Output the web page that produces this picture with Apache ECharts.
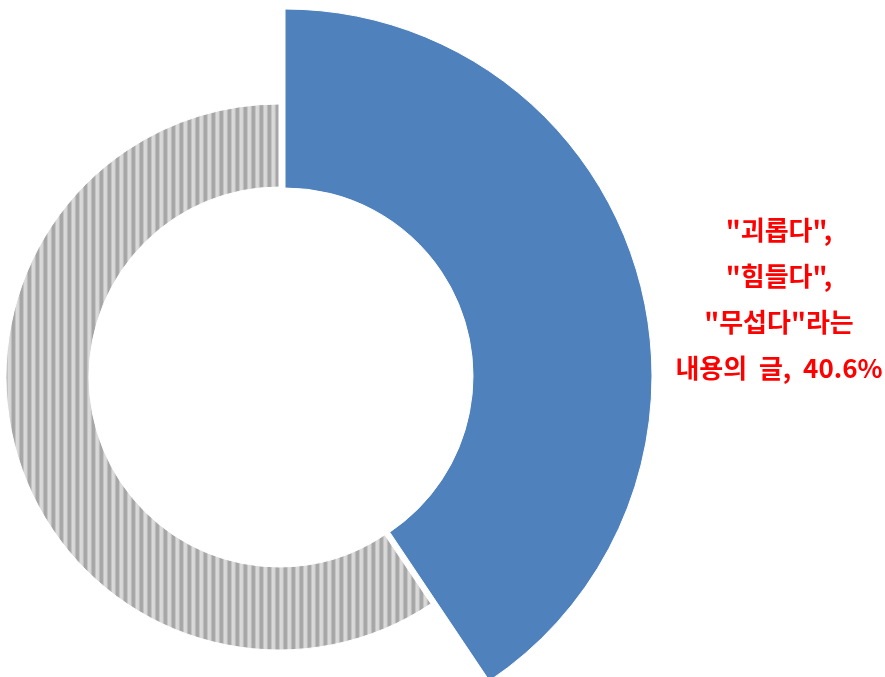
<!DOCTYPE html>
<html><head><meta charset="utf-8">
<script src="https://cdn.jsdelivr.net/npm/echarts@6/dist/echarts.min.js"></script>
<style>html,body{margin:0;padding:0;background:#fff}#c{width:885px;height:677px}</style>
</head><body><div id="c"></div>
<script>
const categories = ['"괴롭다",\n"힘들다",\n"무섭다"라는\n내용의  글', '기타'];
const values = [40.6, 59.4];

// stripe pattern for gray slice
const pc = document.createElement('canvas');
pc.width = 8; pc.height = 8;
const g = pc.getContext('2d');
const cols = ['#d9d9d9','#d9d9d9','#d4d4d4','#bdbdbd','#a6a6a6','#a6a6a6','#a9a9a9','#c4c4c4'];
cols.forEach((c,i)=>{g.fillStyle=c;g.fillRect(i,0,1,8);});

const chart = echarts.init(document.getElementById('c'));
const hidden = {color:'rgba(0,0,0,0)', borderWidth:0};
chart.setOption({
  animation:false,
  series:[
    {
      type:'pie', center:[279,377], radius:[190,273], startAngle:90, clockwise:true,
      label:{show:false}, labelLine:{show:false}, silent:true,
      data: categories.map((n,i)=>({name:n, value:values[i],
        itemStyle: i===1 ? {color:{image:pc, repeat:'repeat'}, borderColor:'#fff', borderWidth:1} : hidden}))
    },
    {
      type:'pie', center:[285,376], radius:[188,367], startAngle:90, clockwise:true,
      labelLine:{show:false}, silent:true,
      data: categories.map((n,i)=>({name:n, value:values[i],
        itemStyle: i===0 ? {color:'#4f81bd', borderColor:'#fff', borderWidth:1} : hidden,
        label: i===0 ? {show:true, formatter: p => p.name + ',  ' + p.value + '%',
          color:'#ff0000', fontSize:26, fontWeight:'bold', lineHeight:46, align:'center',
          overflow:'none', width:300,
          fontFamily:'"Noto Sans CJK KR", sans-serif'} : {show:false}
      })),
      labelLayout: {x:779, y:299, align:'center', verticalAlign:'middle', hideOverlap:false}
    }
  ]
});
</script></body></html>
